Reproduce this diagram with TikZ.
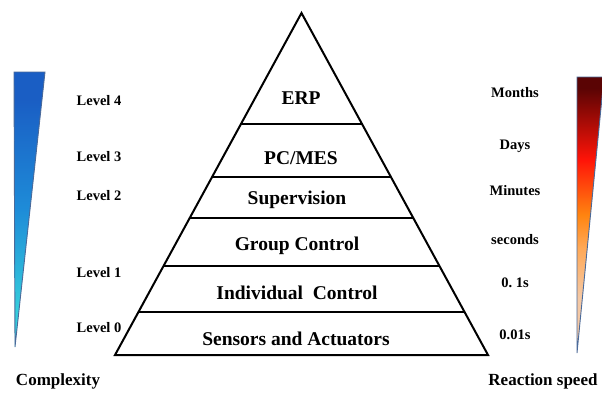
\documentclass[tikz,border=0pt]{standalone}
\usepackage{fontspec}
\setmainfont{Liberation Serif}
\usetikzlibrary{calc}
\definecolor{wedgeline}{HTML}{4A6A9A}
\definecolor{cxtop}{HTML}{1A5EC4}
\definecolor{cxmid}{HTML}{1E8CD8}
\definecolor{cxbot}{HTML}{34CCDC}
\definecolor{rstop}{HTML}{5A0404}
\definecolor{rsred}{HTML}{FF1408}
\definecolor{rsorange}{HTML}{FF8410}
\definecolor{rspeach}{HTML}{F4C8A4}
% the path is fitted to the 25bp--75bp band of each shading
\pgfdeclareverticalshading{complexshade}{100bp}{
    color(0bp)=(cxbot); color(32bp)=(cxbot);
    color(50bp)=(cxmid); color(70bp)=(cxtop); color(100bp)=(cxtop)}
\pgfdeclareverticalshading{speedshade}{100bp}{
    color(0bp)=(rspeach); color(35bp)=(rspeach);
    color(44bp)=(rsorange!70!white); color(50bp)=(rsorange);
    color(60bp)=(rsred); color(73bp)=(rstop); color(100bp)=(rstop)}

\begin{document}
\begin{tikzpicture}[x=1pt,y=-1pt,
    layer/.style={font=\fontsize{19.5}{21}\selectfont\bfseries},
    side/.style={font=\fontsize{14.5}{16}\selectfont\bfseries},
    axis/.style={font=\fontsize{17}{19}\selectfont\bfseries}]
    \useasboundingbox (0,0) rectangle (602,394);
    % pyramid
    \coordinate (top) at (301.5,13);
    \coordinate (bl) at (115,355);
    \coordinate (br) at (488,355);
    \draw[line width=2pt, line join=miter] (top) -- (bl) -- (br) -- cycle;
    \foreach \t in {0.3254,0.4804,0.6003,0.7389,0.8751}
        \draw[line width=2pt] ($(top)!\t!(bl)$) -- ($(top)!\t!(br)$);
    \node[layer] (erp) at (301,98) {ERP};
    \node[layer] (mes) at (301,158) {PC/MES};
    \node[layer] (sup) at (297,200) {Supervision};
    \node[layer] (grp) at (297,246) {Group Control};
    \node[layer] (ind) at (297,293) {Individual\ \ Control};
    \node[layer] (sen) at (296,339) {Sensors and Actuators};
    % complexity wedge
    \shade[shading=complexshade, draw=wedgeline, line width=0.9pt]
        (14,72) -- (45,72) -- (15,347) -- cycle;
    \node[side] (l4) at (99,101) {Level 4};
    \node[side] (l3) at (99,157) {Level 3};
    \node[side] (l2) at (99,196) {Level 2};
    \node[side] (l1) at (99,273) {Level 1};
    \node[side] (l0) at (99,328) {Level 0};
    \node[axis] (cx) at (58,381) {Complexity};
    % reaction speed wedge
    \shade[shading=speedshade, draw=wedgeline, line width=0.9pt]
        (577,77) -- (604,77) -- (577,353) -- cycle;
    \node[side] (mo) at (515,93) {Months};
    \node[side] (dy) at (515,146) {Days};
    \node[side] (mi) at (515,191) {Minutes};
    \node[side] (se) at (515,240) {seconds};
    \node[side] (s1) at (515,283) {0.\ 1s};
    \node[side] (s2) at (515,335) {0.01s};
    \node[axis] (rs) at (543,381) {Reaction speed};
\end{tikzpicture}
\end{document}
